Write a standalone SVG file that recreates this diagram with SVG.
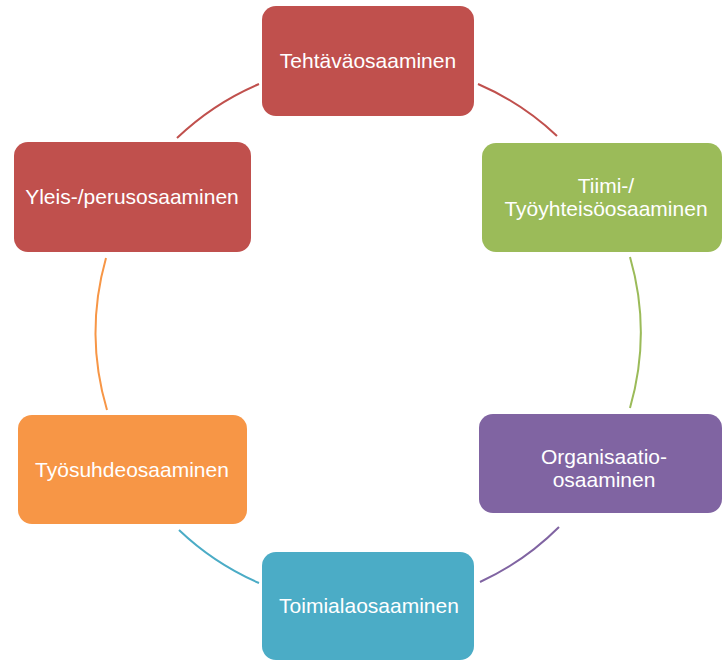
<svg xmlns="http://www.w3.org/2000/svg" width="723" height="661" viewBox="0 0 723 661">
<style>
.box{stroke:none}
.lbl{font-family:"Liberation Sans",Arial,sans-serif;font-size:21px;fill:#ffffff;text-anchor:middle}
.arc{fill:none;stroke-width:2}
</style>
<rect width="723" height="661" fill="#ffffff"/>
<g id="connectors">
<path class="arc" stroke="#C0504D" d="M177,138 A273,273 0 0 1 259,84"/>
<path class="arc" stroke="#C0504D" d="M478,84 A273,273 0 0 1 557,136"/>
<path class="arc" stroke="#9BBB59" d="M630,257 A273,273 0 0 1 630,408"/>
<path class="arc" stroke="#8064A2" d="M559,527 A273,273 0 0 1 480,582"/>
<path class="arc" stroke="#4BACC6" d="M259,583 A273,273 0 0 1 179,530"/>
<path class="arc" stroke="#F79646" d="M107,410 A273,273 0 0 1 106,258"/>
</g>
<g id="n1">
<rect class="box" x="262" y="6" width="212" height="110" rx="14" fill="#C0504D"/>
<text class="lbl" x="368" y="68">Tehtäväosaaminen</text>
</g>
<g id="n2">
<rect class="box" x="482" y="143" width="240" height="109" rx="14" fill="#9BBB59"/>
<text class="lbl" x="606" y="193">Tiimi-/</text>
<text class="lbl" x="606" y="216">Työyhteisöosaaminen</text>
</g>
<g id="n3">
<rect class="box" x="479" y="414" width="243" height="99" rx="14" fill="#8064A2"/>
<text class="lbl" x="604" y="464">Organisaatio-</text>
<text class="lbl" x="604" y="487">osaaminen</text>
</g>
<g id="n4">
<rect class="box" x="262" y="552" width="212" height="108" rx="14" fill="#4BACC6"/>
<text class="lbl" x="369" y="613">Toimialaosaaminen</text>
</g>
<g id="n5">
<rect class="box" x="18" y="415" width="229" height="109" rx="14" fill="#F79646"/>
<text class="lbl" x="132" y="477">Työsuhdeosaaminen</text>
</g>
<g id="n6">
<rect class="box" x="14" y="142" width="237" height="110" rx="14" fill="#C0504D"/>
<text class="lbl" x="132" y="204">Yleis-/perusosaaminen</text>
</g>
</svg>
